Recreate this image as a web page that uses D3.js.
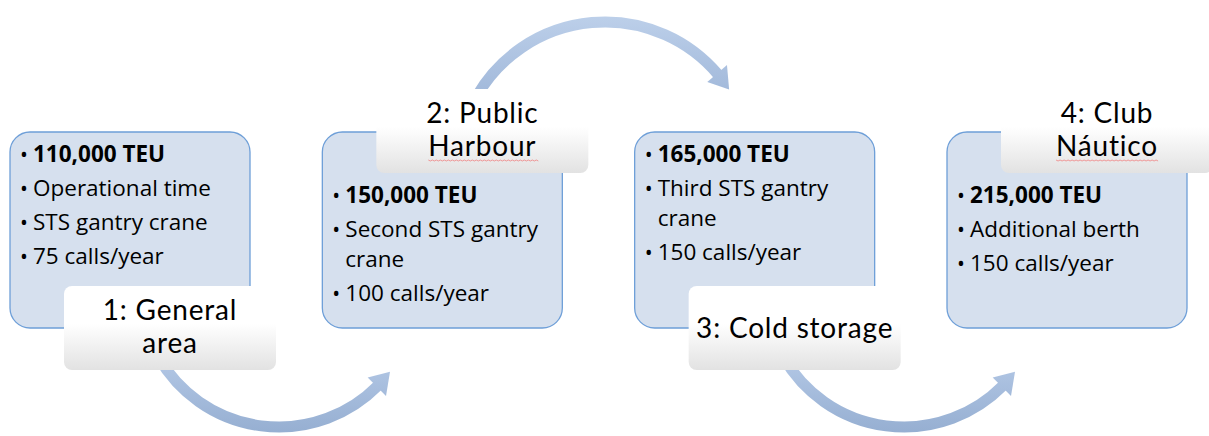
<!DOCTYPE html>
<html>
<head>
<meta charset="utf-8">
<script src="https://cdn.jsdelivr.net/npm/d3@7"></script>
<style>
  body { margin: 0; background: #fff; }
  svg text { font-family: "Open Sans", Lato, sans-serif; fill: #000; }
  svg text.label { font-family: Lato, "Open Sans", sans-serif; letter-spacing: 0.8px; }
</style>
</head>
<body>
<svg id="chart" width="1209" height="436"></svg>
<script>
// stage titles (one entry per line)
var stageLabels = [["1: General", "area"], ["2: Public", "Harbour"], ["3: Cold storage"], ["4: Club", "Náutico"]];
// capacity per stage
var teuValues = ["110,000 TEU", "150,000 TEU", "165,000 TEU", "215,000 TEU"];
// other bullets per stage (each bullet may wrap over several lines)
var stageBullets = [
    [["Operational time"], ["STS gantry crane"], ["75 calls/year"]],
    [["Second STS gantry", "crane"], ["100 calls/year"]],
    [["Third STS gantry", "crane"], ["150 calls/year"]],
    [["Additional berth"], ["150 calls/year"]]
];
// words flagged by the spell checker
var flagged = ["Harbour", "Náutico"];

var svg = d3.select("#chart");
var defs = svg.append("defs");

var x = d3.scaleLinear().domain([0, 3]).range([10, 947]);
var boxW = 240, boxH = 196, boxTop = 132;
var labW = 212, labH = 84;

var lg = defs.append("linearGradient").attr("id", "labGrad")
    .attr("x1", 0).attr("y1", 0).attr("x2", 0).attr("y2", 1);
lg.append("stop").attr("offset", "0.45").attr("stop-color", "#ffffff");
lg.append("stop").attr("offset", "1").attr("stop-color", "#e2e2e2");

// arrows
var arcs = [
    {cx: 279, cy: 288, r: 139, a0: 150, a1: 37, dir: -1},
    {cx: 605, cy: 170, r: 148, a0: -150, a1: -33, dir: 1},
    {cx: 904, cy: 288, r: 139, a0: 150, a1: 37, dir: -1}
];
var rad = Math.PI / 180;
arcs.forEach(function (a, i) {
    var g = defs.append("linearGradient").attr("id", "arrGrad" + i)
        .attr("gradientUnits", "userSpaceOnUse")
        .attr("x1", 0).attr("x2", 0)
        .attr("y1", a.dir < 0 ? a.cy + 60 : a.cy - a.r - 8)
        .attr("y2", a.dir < 0 ? a.cy + a.r + 8 : a.cy - 60);
    g.append("stop").attr("offset", 0).attr("stop-color", a.dir < 0 ? "#b7cbe8" : "#bdd0ea");
    g.append("stop").attr("offset", 1).attr("stop-color", a.dir < 0 ? "#95aed1" : "#9cb4d7");

    var headLen = 20, hw = 13, sw = 11;
    var aBase = a.a1 + a.dir * -1 * (headLen / a.r) / rad;
    var pt = function (ang, r) { return [a.cx + r * Math.cos(ang * rad), a.cy + r * Math.sin(ang * rad)]; };
    var p0 = pt(a.a0, a.r), p1 = pt(aBase + a.dir * 0.5, a.r);
    var sweep = a.dir > 0 ? 1 : 0;
    svg.append("path")
        .attr("d", "M" + p0 + " A" + a.r + "," + a.r + " 0 0," + sweep + " " + p1)
        .attr("fill", "none").attr("stroke", "url(#arrGrad" + i + ")").attr("stroke-width", sw);
    var b1 = pt(aBase, a.r - hw), b2 = pt(aBase, a.r + hw), tip = pt(a.a1, a.r);
    svg.append("path")
        .attr("d", "M" + b1 + " L" + tip + " L" + b2 + " Z")
        .attr("fill", "url(#arrGrad" + i + ")");
});

var stages = svg.selectAll("g.stage")
    .data(d3.range(4))
    .enter().append("g").attr("class", "stage");

stages.append("rect")
    .attr("x", function (i) { return x(i); })
    .attr("y", boxTop)
    .attr("width", boxW).attr("height", boxH)
    .attr("rx", 20).attr("ry", 20)
    .attr("fill", "#d6e0ee").attr("stroke", "#6e9fd8").attr("stroke-width", 1.3);

// bullet text
stages.each(function (i) {
    var g = d3.select(this);
    var y = i % 2 === 0 ? 162 : 203;
    var items = [[teuValues[i]]].concat(stageBullets[i]);
    items.forEach(function (lines, k) {
        g.append("text").attr("x", x(i) + 10).attr("y", y)
            .style("font-size", "21px").text("•");
        var t = g.append("text")
            .style("font-size", "22.5px")
            .style("font-weight", k === 0 ? "bold" : "normal");
        lines.forEach(function (line, j) {
            t.append("tspan").attr("x", x(i) + 23).attr("y", y).text(line);
            y += j < lines.length - 1 ? 30 : 34;
        });
    });
});

// stage labels
stages.each(function (i) {
    var g = d3.select(this);
    var ly = i % 2 === 0 ? 286 : 89;
    var lx = x(i) + 54;
    g.append("rect").attr("x", lx).attr("y", ly)
        .attr("width", labW).attr("height", labH)
        .attr("rx", 8).attr("ry", 8)
        .attr("fill", "url(#labGrad)");
    var lines = stageLabels[i];
    var cy = ly + labH / 2 + 10 - (lines.length - 1) * 18;
    var t = g.append("text").attr("class", "label")
        .attr("text-anchor", "middle").style("font-size", "28px");
    lines.forEach(function (line, j) {
        var ts = t.append("tspan").attr("x", lx + labW / 2).attr("y", cy + j * 33).text(line);
        if (flagged.indexOf(line) >= 0) {
            var w = ts.node().getComputedTextLength();
            var x0 = lx + labW / 2 - w / 2, yy = cy + j * 33 + 4;
            var d = "M" + x0 + "," + yy;
            for (var s = 0; x0 + s * 2 < x0 + w; s++) {
                d += " L" + (x0 + (s + 1) * 2) + "," + (yy + (s % 2 ? 0 : 1));
            }
            g.append("path").attr("d", d).attr("fill", "none")
                .attr("stroke", "#f08080").attr("stroke-width", 0.8);
        }
    });
});
</script>
</body>
</html>
